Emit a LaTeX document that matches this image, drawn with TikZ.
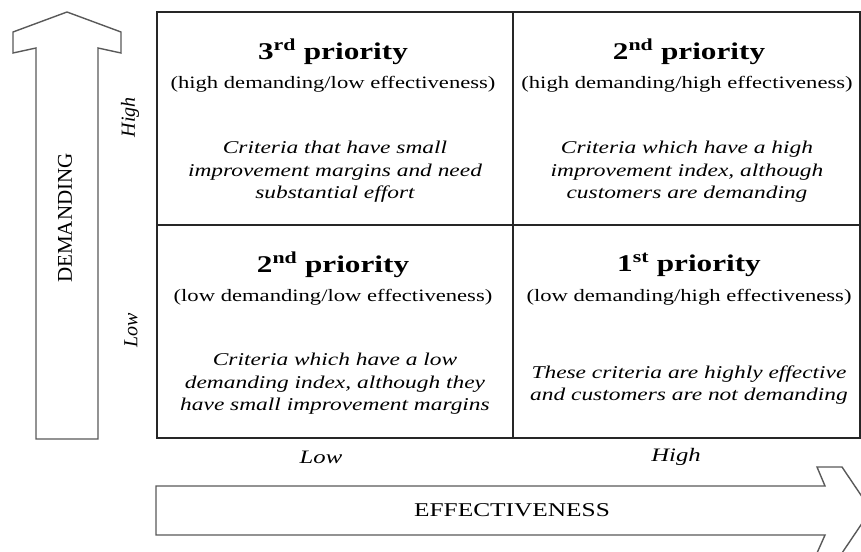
\documentclass[tikz,border=0pt]{standalone}
\usepackage{fontspec}
\setmainfont{Liberation Serif}
\newfontfamily\widefont[FakeStretch=1.3]{Liberation Serif}
\usetikzlibrary{positioning}

\begin{document}
\begin{tikzpicture}[x=1pt,y=-1pt,
	cell/.style={draw=black!85,line width=1.3pt,minimum height=213pt,inner sep=0pt},
	prio/.style={font=\widefont\bfseries\fontsize{24}{28}\selectfont,inner sep=0pt},
	sub/.style={font=\widefont\fontsize{17.4}{21}\selectfont,inner sep=0pt},
	crit/.style={font=\widefont\itshape\fontsize{18}{22.5}\selectfont,align=center,inner sep=0pt},
	level/.style={font=\widefont\itshape\fontsize{19}{23}\selectfont,inner sep=0pt},
	bigarrow/.style={draw=black!65,line width=1.4pt,fill=white,line join=miter}]
	\clip (0,0) rectangle (861,551);
	% the four quadrants
	\node[cell,minimum width=356pt] (q3) at (335,118.5) {};
	\node[cell,minimum width=347pt] (q2h) at (686.5,118.5) {};
	\node[cell,minimum width=356pt] (q2l) at (335,331.5) {};
	\node[cell,minimum width=347pt] (q1) at (686.5,331.5) {};
	% high demanding
	\node[prio] (p3) at (333,52) {3\textsuperscript{rd} priority};
	\node[sub] (s3) at (333,84) {(high demanding/low effectiveness)};
	\node[crit] (c3) at (335,172) {Criteria that have small\\improvement margins and need\\substantial effort};
	\node[prio] (p2h) at (689,52) {2\textsuperscript{nd} priority};
	\node[sub] (s2h) at (687,84) {(high demanding/high effectiveness)};
	\node[crit] (c2h) at (687,172) {Criteria which have a high\\improvement index, although\\customers are demanding};
	% low demanding
	\node[prio] (p2l) at (333,265) {2\textsuperscript{nd} priority};
	\node[sub] (s2l) at (333,297) {(low demanding/low effectiveness)};
	\node[crit] (c2l) at (335,384) {Criteria which have a low\\demanding index, although they\\have small improvement margins};
	\node[prio] (p1) at (689,265) {1\textsuperscript{st} priority};
	\node[sub] (s1) at (689,297) {(low demanding/high effectiveness)};
	\node[crit] (c1) at (689,385) {These criteria are highly effective\\and customers are not demanding};
	% axes
	\draw[bigarrow] (36,439) -- (36,48) -- (13,53) -- (13,32) -- (67,12) -- (121,32) -- (121,53) -- (98,48) -- (98,439) -- cycle;
	\node[rotate=90,font=\fontsize{21}{25}\selectfont] (dem) at (65,218) {DEMANDING};
	\node[rotate=90,font=\itshape\fontsize{20}{24}\selectfont] (dhigh) at (130,117) {High};
	\node[rotate=90,font=\itshape\fontsize{20}{24}\selectfont] (dlow) at (131,330) {Low};
	\draw[bigarrow] (156,486) -- (825,486) -- (817,467) -- (842,467) -- (871,510) -- (842,553) -- (817,553) -- (825,535) -- (156,535) -- cycle;
	\node[font=\widefont\fontsize{19.5}{23}\selectfont] (eff) at (512,510) {EFFECTIVENESS};
	\node[level] (elow) at (321,457) {Low};
	\node[level] (ehigh) at (676,457) {High};
\end{tikzpicture}
\end{document}
